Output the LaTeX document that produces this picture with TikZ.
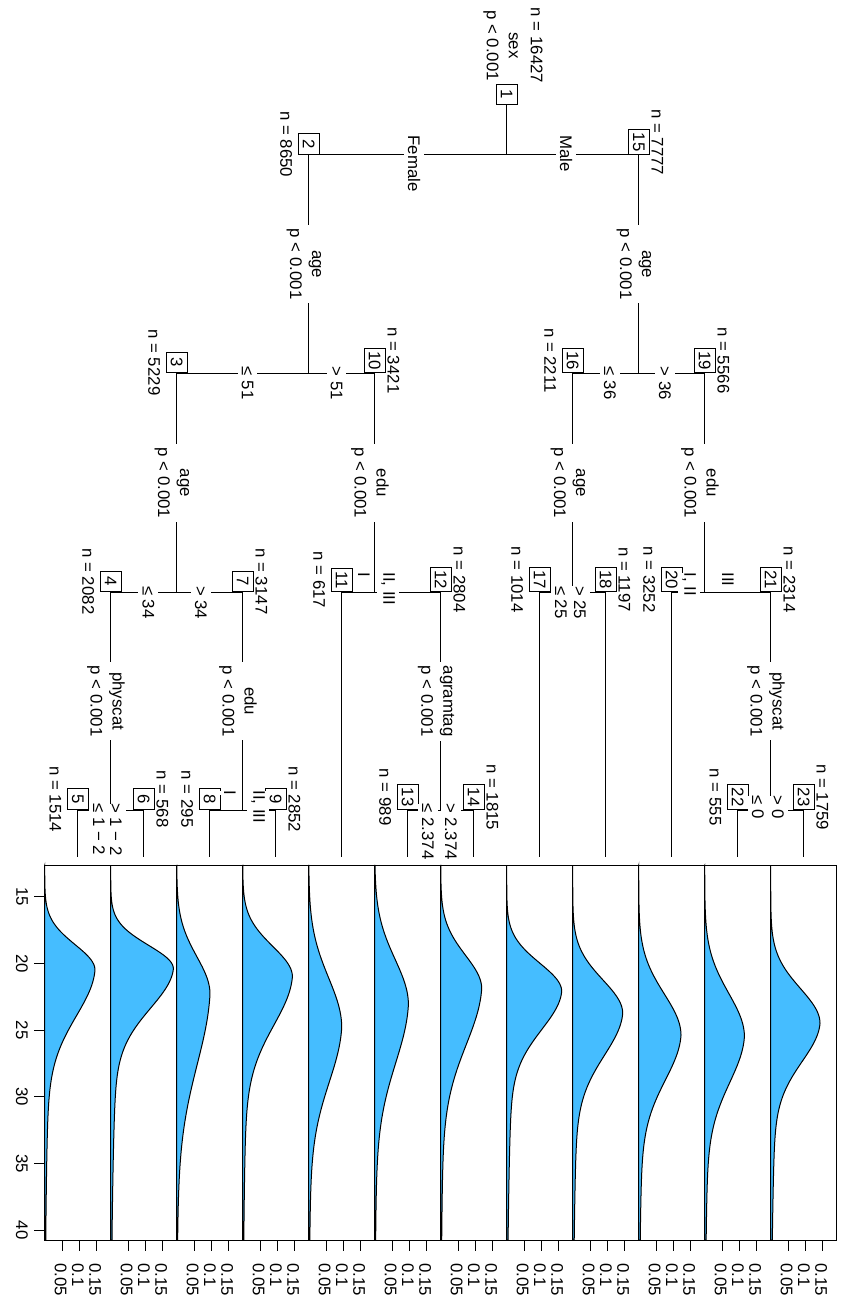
\documentclass[tikz,border=0pt]{standalone}
\usepackage{fontspec}
\setmainfont{Liberation Sans}
\definecolor{densblue}{RGB}{69,189,255}

\begin{document}
\begin{tikzpicture}[x=0.5pt,y=-0.5pt,line width=0.5pt,
    txt/.style={rotate=-90,font=\fontsize{8.4}{11}\selectfont,inner sep=1.5pt},
    idbox/.style={txt,draw,fill=white,anchor=east,minimum width=10.35pt,minimum height=10.5pt},
    splitlbl/.style={txt,fill=white,align=center,inner xsep=2pt},
    edgelbl/.style={txt,fill=white,anchor=west,inner xsep=0pt,inner ysep=2pt}]
    \useasboundingbox (0,0) rectangle (841,1304);
    \coordinate (leafend) at (0,857);

    \node[idbox] (n1) at (506.7,105.3) {1};
    \node[idbox] (n2) at (308.7,155) {2};
    \node[idbox] (n15) at (638.7,155) {15};
    \node[idbox] (n3) at (176.7,373.3) {3};
    \node[idbox] (n10) at (374.7,373.3) {10};
    \node[idbox] (n16) at (572.7,373.3) {16};
    \node[idbox] (n19) at (704.7,373.3) {19};
    \node[idbox] (n4) at (110.7,592.3) {4};
    \node[idbox] (n7) at (242.7,592.3) {7};
    \node[idbox] (n11) at (341.7,592.3) {11};
    \node[idbox] (n12) at (440.7,592.3) {12};
    \node[idbox] (n17) at (539.7,592.3) {17};
    \node[idbox] (n18) at (605.7,592.3) {18};
    \node[idbox] (n20) at (671.7,592.3) {20};
    \node[idbox] (n21) at (770.7,592.3) {21};
    \node[idbox] (n5) at (77.7,810) {5};
    \node[idbox] (n6) at (143.7,810) {6};
    \node[idbox] (n8) at (209.7,810) {8};
    \node[idbox] (n9) at (275.7,810) {9};
    \node[idbox] (n13) at (407.7,810) {13};
    \node[idbox] (n14) at (473.7,810) {14};
    \node[idbox] (n22) at (737.7,810) {22};
    \node[idbox] (n23) at (803.7,810) {23};

    \foreach \a/\b in {1/2,1/15,2/3,2/10,15/16,15/19,3/4,3/7,10/11,10/12,16/17,16/18,19/20,19/21,4/5,4/6,7/8,7/9,12/13,12/14,21/22,21/23}
        \draw (n\a.east) |- (n\b.east);
    \foreach \k in {5,6,8,9,11,13,14,17,18,20,22,23}
        \draw (n\k.east) -- (n\k.east |- leafend);

    \node[txt,align=center] (rootlbl) at (513,45.5) {n = 16427\\sex\\p < 0.001};
    \node[splitlbl] at (304,264.2) {age\\p < 0.001};
    \node[splitlbl] at (634,264.2) {age\\p < 0.001};
    \node[splitlbl] at (172,482.8) {age\\p < 0.001};
    \node[splitlbl] at (370,482.8) {edu\\p < 0.001};
    \node[splitlbl] at (568,482.8) {age\\p < 0.001};
    \node[splitlbl] at (700,482.8) {edu\\p < 0.001};
    \node[splitlbl] at (106,701.2) {physcat\\p < 0.001};
    \node[splitlbl] at (238,701.2) {edu\\p < 0.001};
    \node[splitlbl] at (436,701.2) {agramtag\\p < 0.001};
    \node[splitlbl] at (766,701.2) {physcat\\p < 0.001};

    \foreach \x/\y/\t in {414/135/Female,566/135/Male,247.5/366.5/≤ 51,336.5/366.5/> 51,
        610/366.5/≤ 36,665/366.5/> 36,148.3/585.5/≤ 34,201/585.5/> 34,364/572/I,388/572/{II, III},
        561/585.5/≤ 25,580/585.5/> 25,689/572/{I, II},728/572/III,99/803/≤ 1 − 2,116/803/> 1 − 2,
        230/790/I,258/790/{II, III},428/803/≤ 2.374,451/803/> 2.374,758/795/≤ 0,778/795/> 0}
        \node[edgelbl] at (\x,\y) {\t};

    \foreach \k/\n in {2/8650,3/5229,16/2211,4/2082,11/617,17/1014,20/3252,5/1514,8/295,13/989,22/555}
        \node[txt] at ([xshift=-11.25pt]n\k.center) {n = \n};
    \foreach \k/\n in {15/7777,10/3421,19/5566,7/3147,12/2804,18/1197,21/2314,6/568,9/2852,14/1815,23/1759}
        \node[txt] at ([xshift=9.35pt]n\k.center) {n = \n};

    \foreach \L/\m/\P/\sl/\sr in {44.7/20.5/50.3/1.9/3.5,110.7/20.4/62.7/1.75/3.0,176.7/22.3/33.3/2.8/5.5,
        242.7/21.0/49.7/2.27/3.7,308.7/24.8/33/3.7/4.2,374.7/23.1/33.7/3.4/4.5,440.7/21.9/41/2.5/4.3,
        506.7/22.1/55/2.1/2.9,572.7/23.75/50/2.5/3.2,638.7/25.4/42.3/3.1/3.4,704.7/25.5/39.7/3.25/3.5,
        770.7/24.5/49.3/2.6/2.9}{
        \draw[fill=densblue] (\L,865.4) -- plot[domain=12.65:40.75,samples=160]
            ({\L+\P*(\x<\m ? exp(-((\x-\m)*(\x-\m))/(2*\sl*\sl)) : 0.8*exp(-((\x-\m)*(\x-\m))/(2*\sr*\sr))+0.2*exp(-(\x-\m)/9))},
             {896.7+(\x-15)*13.333}) -- (\L,1240) -- cycle;
        \draw (\L,865) rectangle +(66,375);
        \foreach \t in {0.05,0.1,0.15}{
            \draw (\L+\t*346.7,1240) -- ++(0,10.7);
            \node[txt,anchor=west,inner sep=0pt] at (\L+\t*346.7-1.5,1262.5) {\t};
        }
    }
    \foreach \v in {15,20,...,40}{
        \draw (44.7,{896.7+(\v-15)*13.333}) -- ++(-10.7,0);
        \node[txt] at (22,{896.7+(\v-15)*13.333}) {\v};
    }
\end{tikzpicture}
\end{document}
